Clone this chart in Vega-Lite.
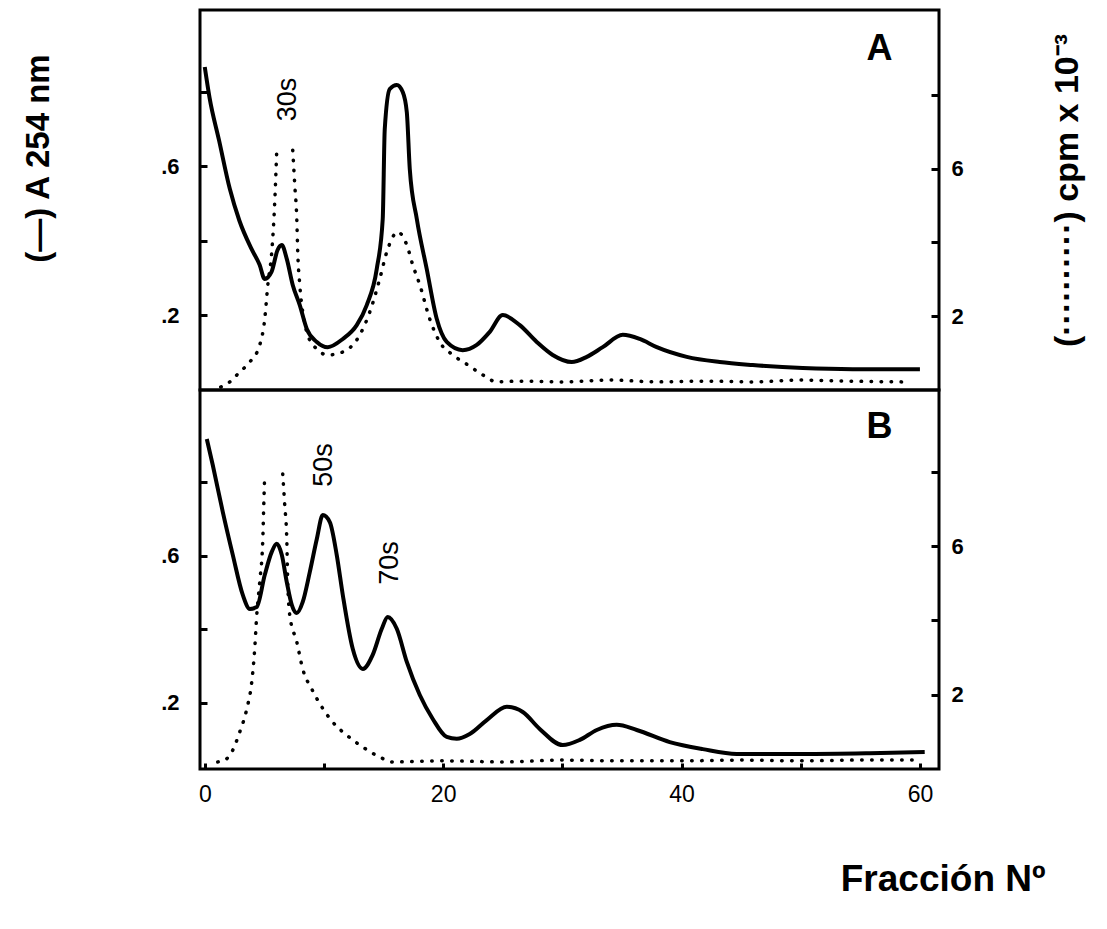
{
  "$schema": "https://vega.github.io/schema/vega-lite/v6.json",
  "background": "white",
  "padding": {"left": 20, "top": 8, "right": 5, "bottom": 5},
  "spacing": 0,
  "bounds": "flush",
  "config": {
    "view": {"stroke": "black", "strokeWidth": 3},
    "font": "Liberation Sans",
    "concat": {"spacing": 0},
    "axis": {"domain": false, "grid": false, "labelColor": "black", "labelFont": "Liberation Sans", "labelFontSize": 22, "labelFontWeight": "bold", "tickColor": "black", "tickWidth": 3, "titleColor": "black", "titleFont": "Liberation Sans"}
  },
  "datasets": {
    "a254": [
      {"panel":"A","f":0,"v":0.867},{"panel":"A","f":0.4,"v":0.785},{"panel":"A","f":1.2,"v":0.67},{"panel":"A","f":2.1,"v":0.54},{"panel":"A","f":2.9,"v":0.455},{"panel":"A","f":3.9,"v":0.38},{"panel":"A","f":4.6,"v":0.336},{"panel":"A","f":5.03,"v":0.298},{"panel":"A","f":5.6,"v":0.317},{"panel":"A","f":6.1,"v":0.375},{"panel":"A","f":6.46,"v":0.389},{"panel":"A","f":6.88,"v":0.352},{"panel":"A","f":7.38,"v":0.282},{"panel":"A","f":7.97,"v":0.228},{"panel":"A","f":8.56,"v":0.164},{"panel":"A","f":9.4,"v":0.129},{"panel":"A","f":10.32,"v":0.115},{"panel":"A","f":11.58,"v":0.137},{"panel":"A","f":12.75,"v":0.174},{"panel":"A","f":13.59,"v":0.228},{"panel":"A","f":14.43,"v":0.325},{"panel":"A","f":14.93,"v":0.459},{"panel":"A","f":15.1,"v":0.70},{"panel":"A","f":15.52,"v":0.808},{"panel":"A","f":16.11,"v":0.819},{"panel":"A","f":16.61,"v":0.8},{"panel":"A","f":16.95,"v":0.746},{"panel":"A","f":17.2,"v":0.593},{"panel":"A","f":17.79,"v":0.459},{"panel":"A","f":18.62,"v":0.325},{"panel":"A","f":19.46,"v":0.191},{"panel":"A","f":20.3,"v":0.129},{"panel":"A","f":21.64,"v":0.107},{"panel":"A","f":22.82,"v":0.121},{"panel":"A","f":23.91,"v":0.156},{"panel":"A","f":25.0,"v":0.201},{"panel":"A","f":26.43,"v":0.174},{"panel":"A","f":27.85,"v":0.129},{"panel":"A","f":29.19,"v":0.094},{"panel":"A","f":30.79,"v":0.075},{"panel":"A","f":32.05,"v":0.089},{"panel":"A","f":33.39,"v":0.115},{"panel":"A","f":35.07,"v":0.148},{"panel":"A","f":36.49,"v":0.137},{"panel":"A","f":37.92,"v":0.115},{"panel":"A","f":40.44,"v":0.089},{"panel":"A","f":43.2,"v":0.075},{"panel":"A","f":45.97,"v":0.067},{"panel":"A","f":50.17,"v":0.059},{"panel":"A","f":54.36,"v":0.056},{"panel":"A","f":60.0,"v":0.056},
      {"panel":"B","f":0.17,"v":0.917},{"panel":"B","f":0.67,"v":0.846},{"panel":"B","f":1.51,"v":0.719},{"panel":"B","f":2.35,"v":0.602},{"panel":"B","f":3.19,"v":0.493},{"panel":"B","f":3.78,"v":0.455},{"panel":"B","f":4.36,"v":0.46},{"panel":"B","f":5.03,"v":0.547},{"panel":"B","f":5.62,"v":0.61},{"panel":"B","f":6.04,"v":0.632},{"panel":"B","f":6.46,"v":0.602},{"panel":"B","f":6.88,"v":0.528},{"panel":"B","f":7.3,"v":0.466},{"panel":"B","f":7.72,"v":0.444},{"panel":"B","f":8.22,"v":0.474},{"panel":"B","f":8.81,"v":0.555},{"panel":"B","f":9.4,"v":0.645},{"panel":"B","f":9.9,"v":0.71},{"panel":"B","f":10.49,"v":0.691},{"panel":"B","f":11.07,"v":0.602},{"panel":"B","f":11.58,"v":0.493},{"panel":"B","f":12.42,"v":0.346},{"panel":"B","f":13.26,"v":0.292},{"panel":"B","f":14.09,"v":0.33},{"panel":"B","f":14.85,"v":0.401},{"panel":"B","f":15.35,"v":0.433},{"panel":"B","f":16.11,"v":0.401},{"panel":"B","f":16.95,"v":0.311},{"panel":"B","f":18.04,"v":0.221},{"panel":"B","f":19.13,"v":0.156},{"panel":"B","f":20.3,"v":0.107},{"panel":"B","f":21.14,"v":0.102},{"panel":"B","f":22.23,"v":0.115},{"panel":"B","f":23.66,"v":0.153},{"panel":"B","f":25.34,"v":0.189},{"panel":"B","f":26.68,"v":0.175},{"panel":"B","f":28.1,"v":0.129},{"panel":"B","f":30.03,"v":0.085},{"panel":"B","f":31.46,"v":0.099},{"panel":"B","f":32.89,"v":0.126},{"panel":"B","f":34.56,"v":0.14},{"panel":"B","f":36.24,"v":0.126},{"panel":"B","f":39.01,"v":0.093},{"panel":"B","f":41.78,"v":0.074},{"panel":"B","f":44.63,"v":0.061},{"panel":"B","f":50.17,"v":0.061},{"panel":"B","f":55.79,"v":0.063},{"panel":"B","f":60.4,"v":0.066}
    ],
    "cpm": [
      {"panel":"A","seg":1,"f":1.34,"v":0.08},{"panel":"A","seg":1,"f":2.1,"v":0.22},{"panel":"A","seg":1,"f":2.94,"v":0.49},{"panel":"A","seg":1,"f":3.78,"v":0.76},{"panel":"A","seg":1,"f":4.61,"v":1.22},{"panel":"A","seg":1,"f":5.03,"v":1.92},{"panel":"A","seg":1,"f":5.29,"v":2.85},{"panel":"A","seg":1,"f":5.62,"v":3.74},{"panel":"A","seg":1,"f":5.87,"v":5.09},{"panel":"A","seg":1,"f":6.04,"v":6.5},
      {"panel":"A","seg":2,"f":7.38,"v":6.5},{"panel":"A","seg":2,"f":7.55,"v":5.56},{"panel":"A","seg":2,"f":7.72,"v":4.63},{"panel":"A","seg":2,"f":7.8,"v":3.74},{"panel":"A","seg":2,"f":7.97,"v":2.85},{"panel":"A","seg":2,"f":8.22,"v":2.11},{"panel":"A","seg":2,"f":8.64,"v":1.49},{"panel":"A","seg":2,"f":9.4,"v":1.11},{"panel":"A","seg":2,"f":10.32,"v":0.95},{"panel":"A","seg":2,"f":11.58,"v":1.03},{"panel":"A","seg":2,"f":13.0,"v":1.49},{"panel":"A","seg":2,"f":13.84,"v":2.11},{"panel":"A","seg":2,"f":14.68,"v":3.01},{"panel":"A","seg":2,"f":15.27,"v":3.74},{"panel":"A","seg":2,"f":16.19,"v":4.28},{"panel":"A","seg":2,"f":16.95,"v":3.93},{"panel":"A","seg":2,"f":17.45,"v":3.39},{"panel":"A","seg":2,"f":18.04,"v":2.85},{"panel":"A","seg":2,"f":18.88,"v":1.92},{"panel":"A","seg":2,"f":19.71,"v":1.3},{"panel":"A","seg":2,"f":20.81,"v":0.95},{"panel":"A","seg":2,"f":21.98,"v":0.7},{"panel":"A","seg":2,"f":23.32,"v":0.41},{"panel":"A","seg":2,"f":24.5,"v":0.22},{"panel":"A","seg":2,"f":26.4,"v":0.24},{"panel":"A","seg":2,"f":30,"v":0.22},{"panel":"A","seg":2,"f":34,"v":0.27},{"panel":"A","seg":2,"f":38,"v":0.22},{"panel":"A","seg":2,"f":42,"v":0.24},{"panel":"A","seg":2,"f":46,"v":0.22},{"panel":"A","seg":2,"f":50,"v":0.27},{"panel":"A","seg":2,"f":54,"v":0.24},{"panel":"A","seg":2,"f":58.5,"v":0.22},
      {"panel":"B","seg":1,"f":1.09,"v":0.19},{"panel":"B","seg":1,"f":1.68,"v":0.24},{"panel":"B","seg":1,"f":2.27,"v":0.46},{"panel":"B","seg":1,"f":2.94,"v":1.0},{"panel":"B","seg":1,"f":3.52,"v":1.61},{"panel":"B","seg":1,"f":3.94,"v":2.34},{"panel":"B","seg":1,"f":4.19,"v":3.23},{"panel":"B","seg":1,"f":4.36,"v":4.14},{"panel":"B","seg":1,"f":4.61,"v":5.03},{"panel":"B","seg":1,"f":4.87,"v":6.19},{"panel":"B","seg":1,"f":4.95,"v":7.1},{"panel":"B","seg":1,"f":5.03,"v":7.94},
      {"panel":"B","seg":2,"f":6.54,"v":7.94},{"panel":"B","seg":2,"f":6.71,"v":7.1},{"panel":"B","seg":2,"f":6.88,"v":6.19},{"panel":"B","seg":2,"f":6.96,"v":5.03},{"panel":"B","seg":2,"f":7.13,"v":4.14},{"panel":"B","seg":2,"f":7.72,"v":3.42},{"panel":"B","seg":2,"f":8.22,"v":2.69},{"panel":"B","seg":2,"f":8.98,"v":2.15},{"panel":"B","seg":2,"f":9.82,"v":1.67},{"panel":"B","seg":2,"f":10.74,"v":1.26},{"panel":"B","seg":2,"f":11.91,"v":0.91},{"panel":"B","seg":2,"f":13.26,"v":0.59},{"panel":"B","seg":2,"f":14.68,"v":0.32},{"panel":"B","seg":2,"f":15.77,"v":0.19},{"panel":"B","seg":2,"f":20,"v":0.22},{"panel":"B","seg":2,"f":25,"v":0.19},{"panel":"B","seg":2,"f":30,"v":0.24},{"panel":"B","seg":2,"f":35,"v":0.22},{"panel":"B","seg":2,"f":40,"v":0.22},{"panel":"B","seg":2,"f":45,"v":0.24},{"panel":"B","seg":2,"f":50,"v":0.22},{"panel":"B","seg":2,"f":55,"v":0.24},{"panel":"B","seg":2,"f":59.8,"v":0.24}
    ],
    "labels": [
      {"panel":"A","f":6.96,"v":0.78,"t":"30s"},
      {"panel":"B","f":9.98,"v":0.846,"t":"50s"},
      {"panel":"B","f":15.52,"v":0.58,"t":"70s"}
    ],
    "letters": [
      {"panel":"A","f":56.6,"v":0.915,"t":"A"},
      {"panel":"B","f":56.6,"v":0.95,"t":"B"}
    ]
  },
  "vconcat": [
    {
      "width": 739,
      "height": 380,
      "layer": [
        {
          "data": {"name": "a254"},
          "transform": [{"filter": "datum.panel === 'A'"}],
          "mark": {"type": "line", "color": "black", "strokeWidth": 4, "interpolate": "monotone"},
          "encoding": {
            "x": {"field": "f", "type": "quantitative", "scale": {"domain": [-0.4, 61.6], "nice": false, "zero": false}, "axis": null},
            "y": {"field": "v", "type": "quantitative", "scale": {"domain": [0, 1.02], "nice": false, "zero": false},
              "axis": {"values": [0.2, 0.4, 0.6, 0.8], "labelExpr": "datum.value == 0.2 ? '.2' : (datum.value == 0.6 ? '.6' : '')", "tickSize": -7, "labelPadding": 28,
                "title": "(—) A 254 nm", "titleFontSize": 33, "titleFontWeight": "bold", "titleAngle": 270, "titleX": -162, "titleY": 148, "titleAlign": "center", "titleBaseline": "middle"}}
          }
        },
        {
          "data": {"name": "labels"},
          "transform": [{"filter": "datum.panel === 'A'"}],
          "mark": {"type": "text", "angle": 270, "fontSize": 27, "font": "Liberation Sans", "color": "black", "align": "center", "baseline": "middle"},
          "encoding": {
            "x": {"field": "f", "type": "quantitative", "scale": {"domain": [-0.4, 61.6], "nice": false, "zero": false}, "axis": null},
            "y": {"field": "v", "type": "quantitative", "scale": {"domain": [0, 1.02], "nice": false, "zero": false}, "axis": null},
            "text": {"field": "t"}
          }
        },
        {
          "data": {"name": "letters"},
          "transform": [{"filter": "datum.panel === 'A'"}],
          "mark": {"type": "text", "fontSize": 36, "fontWeight": "bold", "font": "Liberation Sans", "color": "black", "align": "center", "baseline": "middle"},
          "encoding": {
            "x": {"field": "f", "type": "quantitative", "scale": {"domain": [-0.4, 61.6], "nice": false, "zero": false}, "axis": null},
            "y": {"field": "v", "type": "quantitative", "scale": {"domain": [0, 1.02], "nice": false, "zero": false}, "axis": null},
            "text": {"field": "t"}
          }
        },
        {
          "data": {"name": "cpm"},
          "transform": [{"filter": "datum.panel === 'A'"}],
          "mark": {"type": "line", "color": "black", "strokeWidth": 3.5, "strokeDash": [0.5, 9.5], "strokeCap": "round", "interpolate": "monotone"},
          "encoding": {
            "x": {"field": "f", "type": "quantitative", "scale": {"domain": [-0.4, 61.6], "nice": false, "zero": false}, "axis": null},
            "y": {"field": "v", "type": "quantitative", "scale": {"domain": [0, 10.3], "nice": false, "zero": false},
              "axis": {"orient": "right", "values": [2, 4, 6, 8], "labelExpr": "datum.value == 2 ? '2' : (datum.value == 6 ? '6' : '')", "tickSize": -8, "labelPadding": 20,
                "title": "(··········) cpm x 10⁻³", "titleFontSize": 34, "titleFontWeight": "bold", "titleAngle": 270, "titleX": 128, "titleY": 180, "titleAlign": "center", "titleBaseline": "middle"}},
            "detail": {"field": "seg"}
          }
        }
      ],
      "resolve": {"scale": {"y": "independent"}}
    },
    {
      "width": 739,
      "height": 379,
      "encoding": {
        "x": {"field": "f", "type": "quantitative", "scale": {"domain": [-0.4, 61.6], "nice": false, "zero": false},
          "axis": {"values": [0, 10, 20, 30, 40, 50, 60], "labelExpr": "datum.value % 20 == 0 ? datum.label : ''", "tickSize": -6, "labelPadding": 20, "labelFontWeight": "normal", "labelFontSize": 23,
            "title": "Fracción Nº", "titleFontSize": 37, "titleFontWeight": "bold", "titleX": 845, "titleY": 110, "titleAlign": "right", "titleBaseline": "middle", "titleAnchor": "end"}}
      },
      "layer": [
        {
          "data": {"name": "a254"},
          "transform": [{"filter": "datum.panel === 'B'"}],
          "mark": {"type": "line", "color": "black", "strokeWidth": 4, "interpolate": "monotone"},
          "encoding": {
            "y": {"field": "v", "type": "quantitative", "scale": {"domain": [0.02, 1.05], "nice": false, "zero": false},
              "axis": {"values": [0.2, 0.4, 0.6, 0.8], "labelExpr": "datum.value == 0.2 ? '.2' : (datum.value == 0.6 ? '.6' : '')", "tickSize": -7, "labelPadding": 28, "title": null}}
          }
        },
        {
          "data": {"name": "labels"},
          "transform": [{"filter": "datum.panel === 'B'"}],
          "mark": {"type": "text", "angle": 270, "fontSize": 27, "font": "Liberation Sans", "color": "black", "align": "center", "baseline": "middle"},
          "encoding": {
            "y": {"field": "v", "type": "quantitative", "scale": {"domain": [0.02, 1.05], "nice": false, "zero": false}, "axis": null},
            "text": {"field": "t"}
          }
        },
        {
          "data": {"name": "letters"},
          "transform": [{"filter": "datum.panel === 'B'"}],
          "mark": {"type": "text", "fontSize": 36, "fontWeight": "bold", "font": "Liberation Sans", "color": "black", "align": "center", "baseline": "middle"},
          "encoding": {
            "y": {"field": "v", "type": "quantitative", "scale": {"domain": [0.02, 1.05], "nice": false, "zero": false}, "axis": null},
            "text": {"field": "t"}
          }
        },
        {
          "data": {"name": "cpm"},
          "transform": [{"filter": "datum.panel === 'B'"}],
          "mark": {"type": "line", "color": "black", "strokeWidth": 3.5, "strokeDash": [0.5, 9.5], "strokeCap": "round", "interpolate": "monotone"},
          "encoding": {
            "y": {"field": "v", "type": "quantitative", "scale": {"domain": [0, 10.2], "nice": false, "zero": false},
              "axis": {"orient": "right", "values": [2, 4, 6, 8], "labelExpr": "datum.value == 2 ? '2' : (datum.value == 6 ? '6' : '')", "tickSize": -8, "labelPadding": 20, "title": null}},
            "detail": {"field": "seg"}
          }
        }
      ],
      "resolve": {"scale": {"y": "independent"}}
    }
  ]
}
